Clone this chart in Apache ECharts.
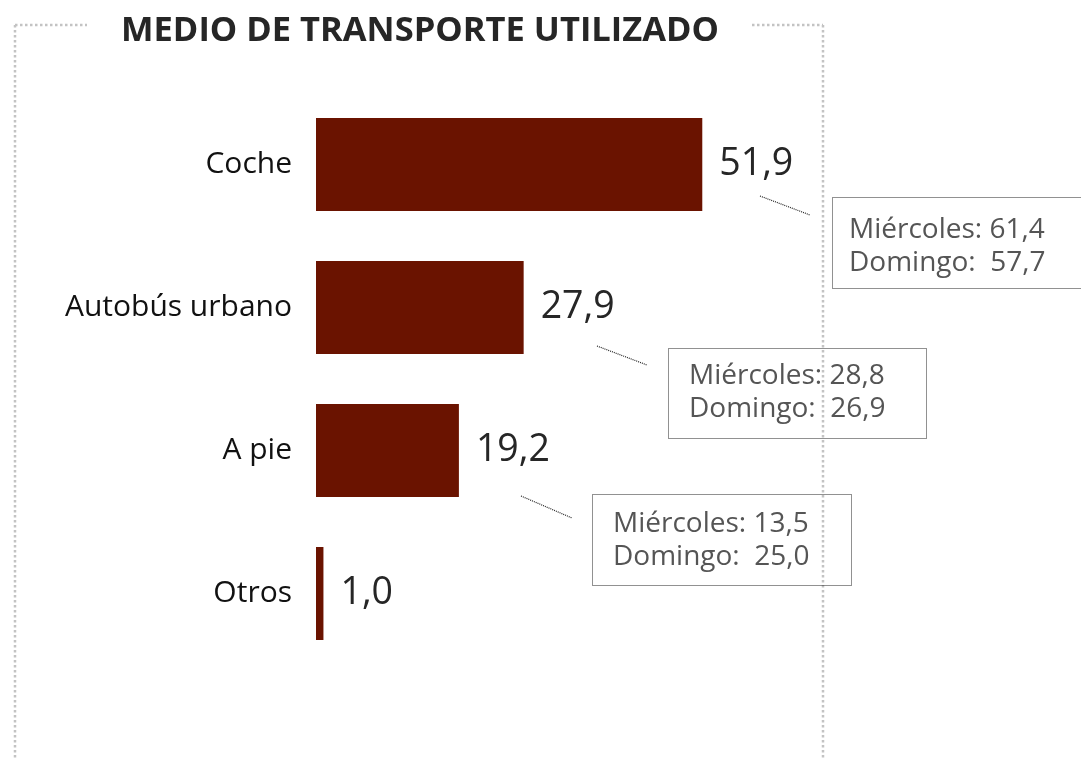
<!DOCTYPE html>
<html>
<head>
<meta charset="utf-8">
<script src="https://cdn.jsdelivr.net/npm/echarts@6/dist/echarts.min.js"></script>
<style>
  html, body { margin: 0; padding: 0; background: #fff; }
  #chart { width: 1081px; height: 758px; }
</style>
</head>
<body>
<div id="chart"></div>
<script>
var categories = ['Coche', 'Autobús urbano', 'A pie', 'Otros'];
var valores = [51.9, 27.9, 19.2, 1.0];
// notas de cada barra (miércoles / domingo)
var miercoles = [61.4, 28.8, 13.5];
var domingo = [57.7, 26.9, 25.0];

// cajas de las notas: [x, y, ancho, alto], texto [x, y centro] y línea guía [x1, y1, x2, y2]
var cajas = [[832, 197, 252, 91], [668, 348, 258, 90], [592, 494, 259, 91]];
var textos = [[849, 247], [689, 393], [613, 541]];
var guias = [[760, 196, 810, 215], [597, 346, 647, 365], [521, 496, 572, 518]];

var FONT = '"Open Sans", sans-serif';
var myChart = echarts.init(document.getElementById('chart'));

function coma(v) {
    return v.toFixed(1).replace('.', ',');
}

var graficos = [];

// marco punteado
var marco = { stroke: '#c3c3c3', lineWidth: 2.5, lineDash: [2.5, 2.5] };
[[15, 25, 15, 758], [15, 25, 87, 25], [752, 25, 823, 25], [823, 25, 823, 758]].forEach(function(p) {
    graficos.push({
        type: 'line',
        shape: { x1: p[0], y1: p[1], x2: p[2], y2: p[3] },
        style: marco,
        silent: true
    });
});

cajas.forEach(function(c, i) {
    var g = guias[i];
    var t = textos[i];
    graficos.push({
        type: 'line',
        shape: { x1: g[0], y1: g[1], x2: g[2], y2: g[3] },
        style: { stroke: '#222', lineWidth: 1.2, lineDash: [1, 1] },
        silent: true
    });
    graficos.push({
        type: 'rect',
        shape: { x: c[0] + 0.5, y: c[1] + 0.5, width: c[2], height: c[3] },
        style: { fill: 'none', stroke: '#222', lineWidth: 1, lineDash: [1, 1] },
        silent: true
    });
    graficos.push({
        type: 'text',
        x: t[0],
        y: t[1],
        style: {
            text: 'Miércoles: ' + coma(miercoles[i]) + '\nDomingo:  ' + coma(domingo[i]),
            font: '28px ' + FONT,
            fill: '#555',
            lineHeight: 33,
            verticalAlign: 'middle'
        },
        silent: true
    });
});

var option = {
    animation: false,
    title: {
        text: 'MEDIO DE TRANSPORTE UTILIZADO',
        left: 116,
        top: 9,
        textStyle: {
            fontFamily: FONT,
            fontSize: 34.5,
            fontWeight: 'bold',
            color: '#262626'
        }
    },
    grid: {
        left: 316,
        top: 93,
        height: 572,
        width: 521,
        outerBoundsMode: 'none'
    },
    xAxis: {
        type: 'value',
        min: 0,
        max: 70,
        show: false
    },
    yAxis: {
        type: 'category',
        data: categories,
        inverse: true,
        axisLine: { show: false },
        axisTick: { show: false },
        axisLabel: {
            margin: 24,
            fontFamily: FONT,
            fontSize: 30,
            color: '#111'
        }
    },
    series: [{
        type: 'bar',
        data: valores,
        barWidth: 93,
        barMinHeight: 0,
        itemStyle: { color: '#6a1300' },
        label: {
            show: true,
            position: 'right',
            distance: 17,
            formatter: function(p) { return coma(p.value); },
            fontFamily: FONT,
            fontSize: 37.5,
            color: '#262626'
        }
    }],
    graphic: graficos
};

myChart.setOption(option);
</script>
</body>
</html>
